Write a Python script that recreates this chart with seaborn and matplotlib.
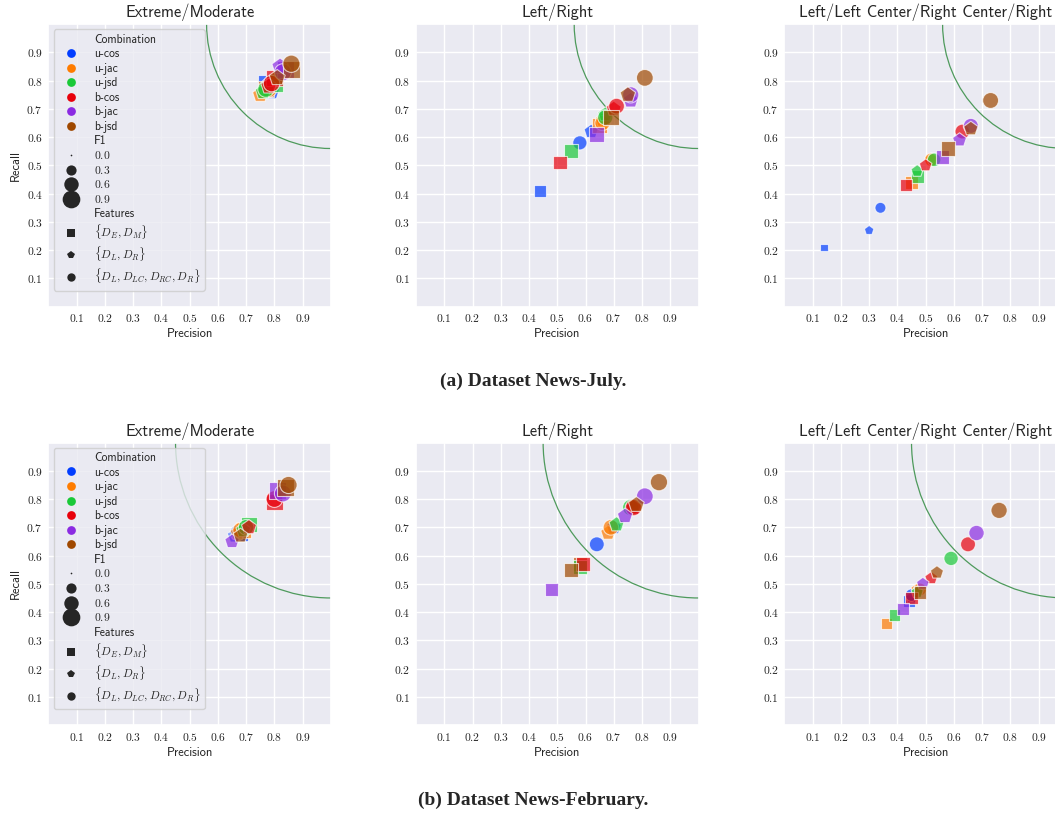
import numpy as np
import pandas as pd
import seaborn as sns
import matplotlib.pyplot as plt
from matplotlib.lines import Line2D
from matplotlib.patches import Circle

# ---------------- data ----------------
combinations = ["u-cos", "u-jac", "u-jsd", "b-cos", "b-jac", "b-jsd"]
features = [r"$\{D_E, D_M\}$", r"$\{D_L, D_R\}$", r"$\{D_L, D_{LC}, D_{RC}, D_R\}$"]
feature_markers = ["s", "p", "o"]
tasks = ["Extreme/Moderate", "Left/Right", "Left/Left Center/Right Center/Right"]
captions = ["(a) Dataset News-July.", "(b) Dataset News-February."]
ticks = [0.1, 0.2, 0.3, 0.4, 0.5, 0.6, 0.7, 0.8, 0.9]
size_legend_levels = [0.0, 0.3, 0.6, 0.9]
curve_radius = [0.44, 0.55]  # radius of green reference arc (centred at (1,1))

# order: for each combination -> features [DE/DM, DL/DR, DL/DLC/DRC/DR]
jul_em_precision = [0.77, 0.79, 0.78, 0.77, 0.75, 0.78, 0.80, 0.76, 0.77, 0.80, 0.78, 0.79, 0.84, 0.82, 0.83, 0.86, 0.81, 0.86]
jul_em_recall    = [0.79, 0.76, 0.78, 0.77, 0.75, 0.77, 0.79, 0.76, 0.77, 0.81, 0.78, 0.79, 0.84, 0.85, 0.83, 0.84, 0.81, 0.86]

jul_lr_precision = [0.44, 0.62, 0.58, 0.65, 0.66, 0.66, 0.55, 0.67, 0.67, 0.51, 0.70, 0.71, 0.64, 0.76, 0.76, 0.69, 0.75, 0.81]
jul_lr_recall    = [0.41, 0.62, 0.58, 0.64, 0.66, 0.65, 0.55, 0.68, 0.67, 0.51, 0.70, 0.71, 0.61, 0.73, 0.75, 0.67, 0.75, 0.81]

jul_4c_precision = [0.14, 0.30, 0.34, 0.45, 0.52, 0.52, 0.47, 0.47, 0.53, 0.43, 0.50, 0.63, 0.56, 0.62, 0.66, 0.58, 0.66, 0.73]
jul_4c_recall    = [0.21, 0.27, 0.35, 0.44, 0.52, 0.52, 0.46, 0.48, 0.52, 0.43, 0.50, 0.62, 0.53, 0.59, 0.64, 0.56, 0.63, 0.73]

feb_em_precision = [0.68, 0.66, 0.67, 0.69, 0.67, 0.68, 0.71, 0.69, 0.70, 0.80, 0.71, 0.80, 0.81, 0.65, 0.83, 0.84, 0.68, 0.85]
feb_em_recall    = [0.68, 0.67, 0.68, 0.69, 0.68, 0.69, 0.71, 0.69, 0.70, 0.79, 0.70, 0.80, 0.83, 0.65, 0.82, 0.84, 0.67, 0.85]

feb_lr_precision = [0.58, 0.70, 0.64, 0.58, 0.68, 0.69, 0.58, 0.71, 0.76, 0.59, 0.77, 0.77, 0.48, 0.74, 0.81, 0.55, 0.78, 0.86]
feb_lr_recall    = [0.57, 0.70, 0.64, 0.57, 0.68, 0.70, 0.56, 0.71, 0.77, 0.57, 0.77, 0.77, 0.48, 0.74, 0.81, 0.55, 0.78, 0.86]

feb_4c_precision = [0.44, 0.45, 0.45, 0.36, 0.47, 0.48, 0.39, 0.47, 0.59, 0.45, 0.52, 0.65, 0.42, 0.49, 0.68, 0.48, 0.54, 0.76]
feb_4c_recall    = [0.44, 0.45, 0.46, 0.36, 0.48, 0.48, 0.39, 0.47, 0.59, 0.45, 0.52, 0.64, 0.41, 0.50, 0.68, 0.47, 0.54, 0.76]

panels = [
    [(jul_em_precision, jul_em_recall), (jul_lr_precision, jul_lr_recall), (jul_4c_precision, jul_4c_recall)],
    [(feb_em_precision, feb_em_recall), (feb_lr_precision, feb_lr_recall), (feb_4c_precision, feb_4c_recall)],
]

# ---------------- style ----------------
sns.set_theme(style="darkgrid")
plt.rcParams["font.family"] = ["cmss10", "DejaVu Sans"]
plt.rcParams["mathtext.fontset"] = "cm"
plt.rcParams["axes.unicode_minus"] = False
palette = dict(zip(combinations, sns.color_palette("bright", 6)))
markers = dict(zip(features, feature_markers))
size_max = 180.0

W, H = 1055, 815
fig = plt.figure(figsize=(W / 100, H / 100), dpi=100)

col_left_px = [48.4, 416.0, 784.4]
row_top_px = [24.2, 442.6]
ax_w_px, ax_h_px = 282.5, 282.5

for r in range(2):
    for c in range(3):
        prec, rec = panels[r][c]
        df = pd.DataFrame({
            "Combination": np.repeat(combinations, len(features)),
            "Features": features * len(combinations),
            "Precision": prec,
            "Recall": rec,
        })
        df["F1"] = 2 * df["Precision"] * df["Recall"] / (df["Precision"] + df["Recall"])

        left = col_left_px[c] / W
        bottom = (H - row_top_px[r] - ax_h_px) / H
        ax = fig.add_axes([left, bottom, ax_w_px / W, ax_h_px / H])

        ax.add_patch(Circle((1, 1), curve_radius[r], fill=False, edgecolor="#4e9a5c",
                            linewidth=0.9, zorder=1))
        sns.scatterplot(data=df, x="Precision", y="Recall", hue="Combination",
                        style="Features", size="F1", palette=palette, markers=markers,
                        sizes=(0, size_max), size_norm=(0, 1), alpha=0.7,
                        edgecolor="white", linewidth=0.8, legend=False, ax=ax, zorder=3)
        ax.set_xlim(0, 1)
        ax.set_ylim(0, 1)
        ax.set_xticks(ticks, labels=[f"${t:.1f}$" for t in ticks], fontsize=8.3)
        ax.set_yticks(ticks, labels=[f"${t:.1f}$" for t in ticks], fontsize=8.3)
        ax.tick_params(length=0, pad=4)
        ax.set_title(tasks[c], fontsize=11.8, pad=5)
        ax.set_xlabel("Precision", fontsize=9, labelpad=3)
        if c == 0:
            ax.set_ylabel("Recall", fontsize=9, labelpad=3)
            handles = [Line2D([], [], linestyle="", marker="", label="Combination")]
            for comb in combinations:
                handles.append(Line2D([], [], linestyle="", marker="o", markersize=6.3,
                                      markerfacecolor=palette[comb], markeredgewidth=0,
                                      label=comb))
            handles.append(Line2D([], [], linestyle="", marker="", label="F1"))
            for lv in size_legend_levels:
                handles.append(Line2D([], [], linestyle="", marker="o",
                                      markersize=max(np.sqrt(size_max * lv), 1.2),
                                      markerfacecolor=".15", markeredgewidth=0,
                                      label=f"${lv:.1f}$"))
            handles.append(Line2D([], [], linestyle="", marker="", label="Features"))
            for feat, mk in zip(features, feature_markers):
                handles.append(Line2D([], [], linestyle="", marker=mk, markersize=6,
                                      markerfacecolor=".15", markeredgewidth=0,
                                      label=feat))
            leg = ax.legend(handles=handles, loc="upper left", fontsize=8.4,
                            labelspacing=0.22, handlelength=2.3, handletextpad=0.8,
                            borderaxespad=0.45, borderpad=0.35,
                            framealpha=0.8, edgecolor="0.8")
            leg.set_zorder(5)
        else:
            ax.set_ylabel("")

fig.text(0.505, (H - 381) / H, captions[0], ha="center", va="center",
         fontsize=14, fontweight="bold", family="Liberation Serif")
fig.text(0.505, (H - 800) / H, captions[1], ha="center", va="center",
         fontsize=14, fontweight="bold", family="Liberation Serif")

fig.savefig("out.png", dpi=100)
